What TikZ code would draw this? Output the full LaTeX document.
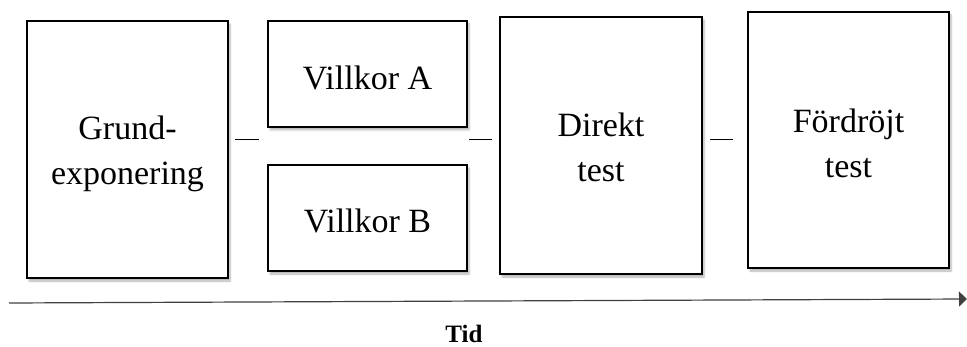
\documentclass[tikz,border=0pt]{standalone}
\usepackage{fontspec}
\setmainfont{Liberation Serif}
\usetikzlibrary{arrows.meta,shadows.blur,calc}

\tikzset{
  phase/.style={draw=black, line width=2pt, fill=white, inner sep=0pt,
    blur shadow={shadow xshift=2pt, shadow yshift=-3pt, shadow blur steps=6, shadow opacity=30}},
  lbl/.style={anchor=base, inner sep=0pt, font=\fontsize{34}{40}\selectfont},
  sep/.style={line width=0.9pt},
  timeline/.style={line width=1.2pt, draw=black!75, -{Triangle[length=8pt,width=15pt]}},
}

\begin{document}
\begin{tikzpicture}[x=1pt,y=-1pt]
  \useasboundingbox (0,0) rectangle (967,347);

  % phase boxes
  \node[phase, minimum width=201pt, minimum height=257pt] (grund) at (127.5,149.5) {};
  \node[phase, minimum width=199pt, minimum height=106pt] (villA) at (367.5,74) {};
  \node[phase, minimum width=199pt, minimum height=106pt] (villB) at (367.5,218) {};
  \node[phase, minimum width=202pt, minimum height=257pt] (direkt) at (601,145.5) {};
  \node[phase, minimum width=201pt, minimum height=256pt] (ford) at (848.5,140) {};

  % box labels
  \node[lbl] (grundA) at (127.5,140) {Grund-};
  \node[lbl] (grundB) at (127.5,185) {exponering};
  \node[lbl] (villAt) at (367.5,90) {Villkor A};
  \node[lbl] (villBt) at (367.5,233) {Villkor B};
  \node[lbl] (direktA) at (601,137) {Direkt};
  \node[lbl] (direktB) at (601,182) {test};
  \node[lbl] (fordA) at (848.5,133) {Fördröjt};
  \node[lbl] (fordB) at (848.5,178) {test};

  % short dashes between the phases
  \coordinate (d1a) at (235,139); \coordinate (d1b) at (259,139);
  \coordinate (d2a) at (469,139); \coordinate (d2b) at (492,139);
  \coordinate (d3a) at (710,139); \coordinate (d3b) at (733,139);
  \draw[sep] (d1a) -- (d1b);
  \draw[sep] (d2a) -- (d2b);
  \draw[sep] (d3a) -- (d3b);

  % time axis
  \coordinate (t0) at (9,303);
  \coordinate (t1) at (967,299);
  \draw[timeline] (t0) -- (t1);
  \node[anchor=base, inner sep=0pt, font=\fontsize{25}{30}\selectfont\bfseries] (tid) at (464,343) {Tid};
\end{tikzpicture}
\end{document}
